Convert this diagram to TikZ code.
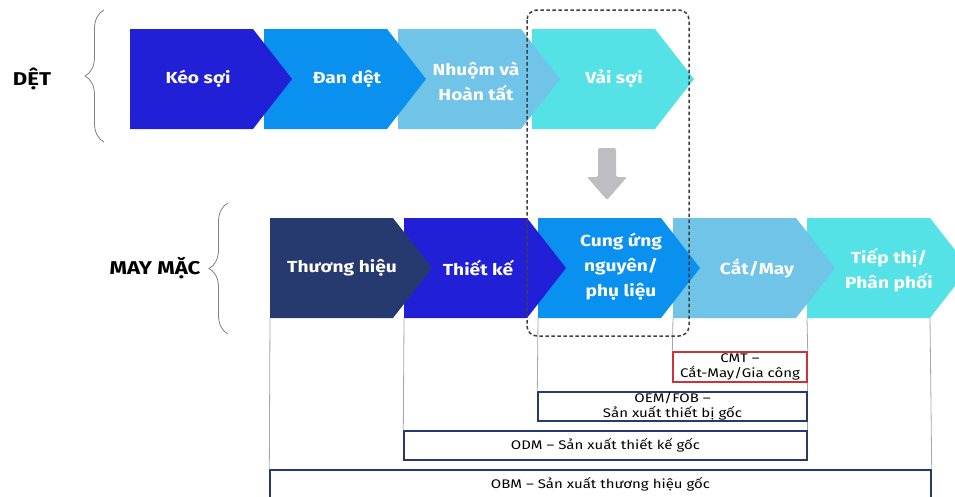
\documentclass[tikz,border=0pt]{standalone}
\usepackage{fontspec}
\setmainfont{Fira Sans}[FakeStretch=1.2]
\usetikzlibrary{decorations.pathreplacing}

\definecolor{navy}{RGB}{38,58,112}
\definecolor{royal}{RGB}{34,32,214}
\definecolor{azure}{RGB}{10,145,240}
\definecolor{sky}{RGB}{112,196,232}
\definecolor{aqua}{RGB}{84,226,230}
\definecolor{arrowgray}{RGB}{190,190,194}
\definecolor{cmtred}{RGB}{208,48,56}

% chevron: left x, top y, colour, name
\newcommand{\chev}[4]{%
	\fill[#3] (#1,#2) -- ++(123,0) -- ++(39,50) -- ++(-39,50) -- ++(-123,0) -- cycle;
	\coordinate (#4sw) at (#1,#2+100); \coordinate (#4se) at (#1+123,#2+100);}

\begin{document}
\begin{tikzpicture}[x=1pt,y=-1pt,
	lbl/.style={text=white,font=\fontsize{16}{25}\selectfont\bfseries,align=center},
	model/.style={draw=navy,line width=1.4pt,fill=white,font=\fontsize{12.5}{14.5}\selectfont,align=center,inner sep=0pt},
	link/.style={draw=gray!70,line width=0.8pt},
	bracket/.style={draw=gray,line width=0.8pt,decorate,decoration={brace,amplitude=19pt}}]
	\useasboundingbox (0,0) rectangle (955,496);
	
	\node[font=\fontsize{18.5}{20}\selectfont\bfseries] (det) at (32,79) {DỆT};
	\draw[bracket] (104,142) -- (104,10);
	\node[font=\fontsize{18.5}{20}\selectfont\bfseries] (maymac) at (155,268) {MAY MẶC};
	\draw[bracket] (228,334) -- (228,203);
	
	\chev{532}{29}{aqua}{vai} \chev{398}{29}{sky}{nhuom} \chev{264}{29}{azure}{dan} \chev{130}{29}{royal}{keo}
	\node[lbl] (keo) at (198,79) {Kéo sợi}; \node[lbl] (dan) at (347,79) {Đan dệt};
	\node[lbl] (nhuom) at (476,81) {Nhuộm và\\Hoàn tất}; \node[lbl] (vai) at (614,79) {Vải sợi};
	
	\chev{807}{218}{aqua}{tiep} \chev{673}{218}{sky}{cat} \chev{538}{218}{azure}{cung} \chev{404}{218}{royal}{thiet} \chev{270}{218}{navy}{thuong}
	\node[lbl] (thuong) at (342,268) {Thương hiệu}; \node[lbl] (thiet) at (478,268) {Thiết kế};
	\node[lbl] (cung) at (621,267) {Cung ứng\\nguyên/\\phụ liệu}; \node[lbl] (cat) at (757,268) {Cắt/May};
	\node[lbl] (tiep) at (889,270) {Tiếp thị/\\Phân phối};
	
	\node[model,minimum width=661pt,minimum height=28pt] (obm) at (600.5,484) {OBM – Sản xuất thương hiệu gốc};
	\node[model,minimum width=403pt,minimum height=29pt] (odm) at (605.5,445.5) {ODM – Sản xuất thiết kế gốc};
	\node[model,minimum width=269pt,minimum height=29pt] (oem) at (672.5,406.5) {OEM/FOB –\\Sản xuất thiết bị gốc};
	\node[model,draw=cmtred,minimum width=134pt,minimum height=30pt] (cmt) at (740,367) {CMT –\\Cắt-May/Gia công};
	
	\draw[link] (thuongsw) -- (obm.north west) (thietsw) -- (odm.north west) (cungsw) -- (oem.north west);
	\draw[link] (catsw) -- (cmt.north west) (tiepsw) -- (cmt.north east) (tiepse) -- (obm.north east);
	\draw[link] (cmt.south east) -- (oem.north east) (oem.south east) -- (odm.north east);
	
	\fill[arrowgray,rounded corners=2pt] (598,148) -- (616,148) -- (616,177) -- (627,177) -- (607,200) -- (587,177) -- (598,177) -- cycle;
	\draw[black!75,line width=1.5pt,dash pattern=on 3.5pt off 2.5pt,rounded corners=10pt] (527,10) rectangle (689,336);
\end{tikzpicture}
\end{document}
